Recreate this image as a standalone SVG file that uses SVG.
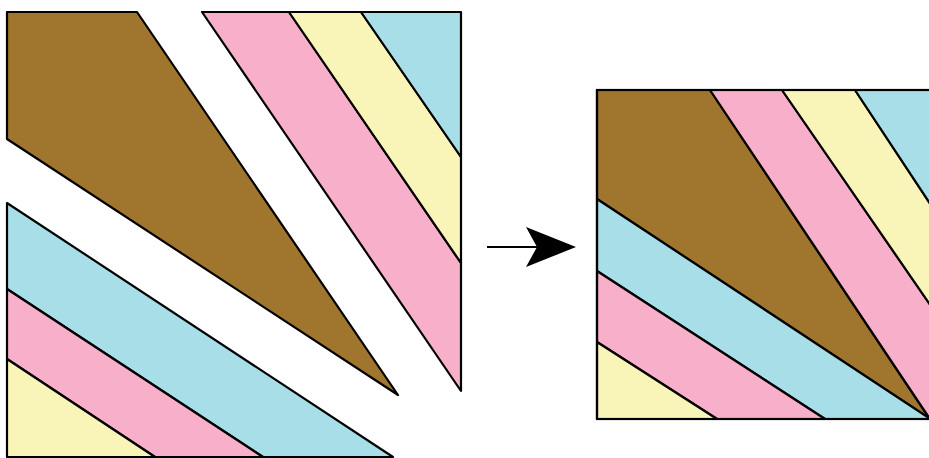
<svg xmlns="http://www.w3.org/2000/svg" width="929" height="458" viewBox="0 0 929 458">
<style>
.p{stroke:#000;stroke-width:2.2;stroke-linejoin:round}
.br{fill:#A0752D}.pk{fill:#F7AFCA}.ye{fill:#F9F5B9}.bl{fill:#A8DEE8}
</style>
<rect width="929" height="458" fill="#fff"/>
<g id="piece-brown">
<polygon class="p br" points="7,12 137,12 398,395 7,139"/>
</g>
<g id="piece-upper-right">
<polygon class="p pk" points="202,12 289,12 461,263 461,391"/>
<polygon class="p ye" points="289,12 361,12 461,157 461,263"/>
<polygon class="p bl" points="361,12 461,12 461,157"/>
</g>
<g id="piece-lower-left">
<polygon class="p bl" points="7,203 393,457 263,457 7,289"/>
<polygon class="p pk" points="7,289 263,457 155,457 7,359"/>
<polygon class="p ye" points="7,359 155,457 7,457"/>
</g>
<g id="connectors">
<line x1="487" y1="247" x2="540" y2="247" stroke="#000" stroke-width="2"/>
<polygon points="576,247 526,227 537,247 526,267" fill="#000"/>
</g>
<g id="assembled">
<polygon class="p br" points="597,90 710,90 929,418 597,199"/>
<polygon class="p bl" points="597,199 929,418 932,419 825,419 597,271"/>
<polygon class="p pk" points="597,271 825,419 717,419 597,342"/>
<polygon class="p ye" points="597,342 717,419 597,419"/>
<polygon class="p pk" points="710,90 782,90 960,348 960,419 930,419"/>
<polygon class="p ye" points="782,90 855,90 960,249 960,348"/>
<polygon class="p bl" points="855,90 960,90 960,249"/>
<rect x="597" y="90" width="400" height="329" fill="none" stroke="#000" stroke-width="2.2"/>
</g>
</svg>
